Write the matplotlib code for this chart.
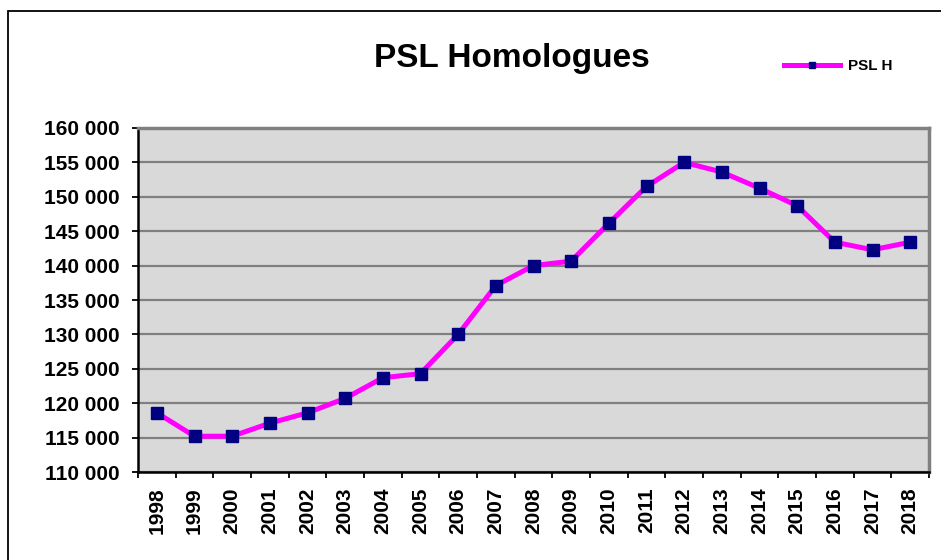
import matplotlib
matplotlib.use("Agg")
import matplotlib.pyplot as plt
from matplotlib.ticker import FuncFormatter, FixedLocator
from matplotlib.patches import Rectangle
import numpy as np

years = [str(y) for y in range(1998, 2019)]
psl_h = [118600, 115200, 115200, 117100, 118600, 120700, 123700, 124300,
         130000, 137100, 140000, 140650, 146150, 151500, 155000, 153600,
         151250, 148700, 143400, 142300, 143400]
title = "PSL Homologues"
series_name = "PSL H"
y_ticks = list(range(110000, 160001, 5000))

plt.rcParams['font.family'] = ['Liberation Sans', 'DejaVu Sans']
plt.rcParams['font.weight'] = 'bold'

W, H = 941, 560
fig = plt.figure(figsize=(W / 100, H / 100), dpi=100)
fig.patch.set_facecolor('white')

# outer chart frame
fig.patches.append(Rectangle((7.5 / W, -0.1), 1.2, 1 - 10.5 / H + 0.1,
                             transform=fig.transFigure, fill=False,
                             edgecolor='black', linewidth=1.3, zorder=0))

left, right, top, bottom = 138, 929, 128, 472
ax = fig.add_axes([left / W, 1 - bottom / H, (right - left) / W, (bottom - top) / H])
ax.set_facecolor('#D9D9D9')

x = np.arange(len(years))
ax.plot(x, psl_h, color='#FF00FF', linewidth=3.6, marker='s', markersize=8.5,
        markerfacecolor='#000080', markeredgecolor='#000080', label=series_name,
        zorder=3, clip_on=False)

ax.set_xlim(-0.5, len(years) - 0.5)
ax.set_ylim(110000, 160000)

ax.set_yticks(y_ticks)
ax.yaxis.set_major_formatter(FuncFormatter(lambda v, p: f"{int(v):,}".replace(",", " ")))
ax.grid(axis='y', color='#808080', linewidth=1.6, zorder=1)
ax.set_axisbelow(True)

ax.xaxis.set_major_locator(FixedLocator(np.arange(-0.5, len(years), 1.0)))
ax.xaxis.set_minor_locator(FixedLocator(x))
ax.set_xticklabels([])
ax.set_xticklabels(years, minor=True, rotation=90, fontsize=15, fontweight='bold')
ax.tick_params(axis='x', which='major', length=4, width=1.3, color='black', direction='out')
ax.tick_params(axis='x', which='minor', length=0, pad=11)
ax.tick_params(axis='y', which='major', length=4, width=1.3, color='black', pad=9, labelsize=15)
for lab in ax.get_yticklabels():
    lab.set_fontweight('bold')

for s in ['top', 'right']:
    ax.spines[s].set_color('#808080')
    ax.spines[s].set_linewidth(2.5)
for s in ['left', 'bottom']:
    ax.spines[s].set_color('black')
    ax.spines[s].set_linewidth(1.8)

fig.text(512 / W, 1 - 58 / H, title, ha='center', va='center',
         fontsize=24, fontweight='bold')

fig.legend(loc='center left', bbox_to_anchor=(776 / W, 1 - 66 / H), frameon=False,
           handlelength=3.7, markerscale=0.55, prop={'size': 11, 'weight': 'bold'},
           borderpad=0, handletextpad=0.5)

fig.savefig("out.png", dpi=100, facecolor='white')
